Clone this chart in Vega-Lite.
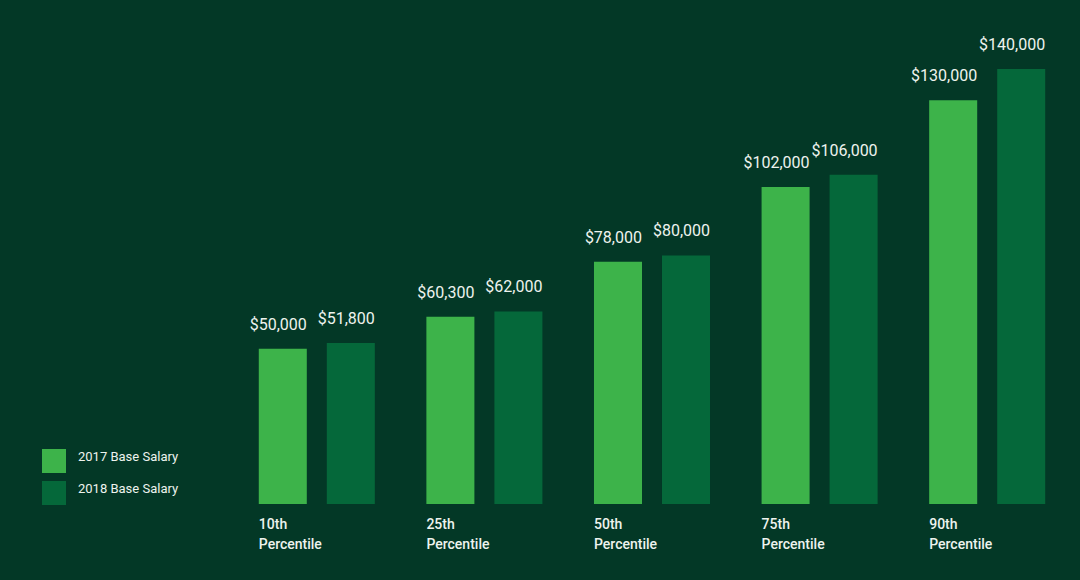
{
  "$schema": "https://vega.github.io/schema/vega-lite/v6.json",
  "autosize": {"type": "none"},
  "width": 838,
  "height": 466,
  "padding": {"left": 233, "top": 38, "right": 9, "bottom": 76},
  "background": "#033826",
  "config": {
    "view": {"stroke": null},
    "font": "Roboto"
  },
  "data": {
    "values": [
      {"pct": "10th Percentile", "year": "2017 Base Salary", "salary": 50000, "label": "$50,000"},
      {"pct": "10th Percentile", "year": "2018 Base Salary", "salary": 51800, "label": "$51,800"},
      {"pct": "25th Percentile", "year": "2017 Base Salary", "salary": 60300, "label": "$60,300"},
      {"pct": "25th Percentile", "year": "2018 Base Salary", "salary": 62000, "label": "$62,000"},
      {"pct": "50th Percentile", "year": "2017 Base Salary", "salary": 78000, "label": "$78,000"},
      {"pct": "50th Percentile", "year": "2018 Base Salary", "salary": 80000, "label": "$80,000"},
      {"pct": "75th Percentile", "year": "2017 Base Salary", "salary": 102000, "label": "$102,000"},
      {"pct": "75th Percentile", "year": "2018 Base Salary", "salary": 106000, "label": "$106,000"},
      {"pct": "90th Percentile", "year": "2017 Base Salary", "salary": 130000, "label": "$130,000"},
      {"pct": "90th Percentile", "year": "2018 Base Salary", "salary": 140000, "label": "$140,000"}
    ]
  },
  "encoding": {
    "x": {
      "field": "pct", "type": "nominal", "sort": null,
      "scale": {"paddingInner": 0, "paddingOuter": 0},
      "axis": {
        "title": null, "domain": false, "ticks": false, "labelAngle": 0,
        "labelExpr": "split(datum.label, ' ')",
        "labelAlign": "left", "labelOffset": -58, "labelPadding": 13,
        "labelColor": "#eef3ee", "labelFontSize": 14, "labelFontWeight": 500,
        "labelLineHeight": 20, "labelBaseline": "top"
      }
    },
    "xOffset": {
      "field": "year", "type": "nominal",
      "scale": {"paddingInner": 0.294, "paddingOuter": 0.379}
    },
    "y": {
      "field": "salary", "type": "quantitative",
      "scale": {"domain": [0, 150000]},
      "axis": null
    }
  },
  "layer": [
    {
      "mark": {"type": "bar"},
      "encoding": {
        "color": {
          "field": "year", "type": "nominal",
          "scale": {"range": ["#3db34a", "#05683a"]},
          "legend": {
            "title": null, "orient": "none", "legendX": -191, "legendY": 411,
            "symbolType": "square", "symbolSize": 576, "symbolStrokeWidth": 0,
            "rowPadding": 8, "labelOffset": 12, "labelFontSize": 13,
            "labelBaseline": "alphabetic",
            "labelColor": "#eef3ee", "labelFont": "Roboto"
          }
        }
      }
    },
    {
      "mark": {"type": "text", "baseline": "alphabetic", "align": "right", "dx": 24, "dy": -19, "fontSize": 16, "color": "#eef3ee"},
      "encoding": {
        "text": {"field": "label"}
      }
    }
  ]
}
